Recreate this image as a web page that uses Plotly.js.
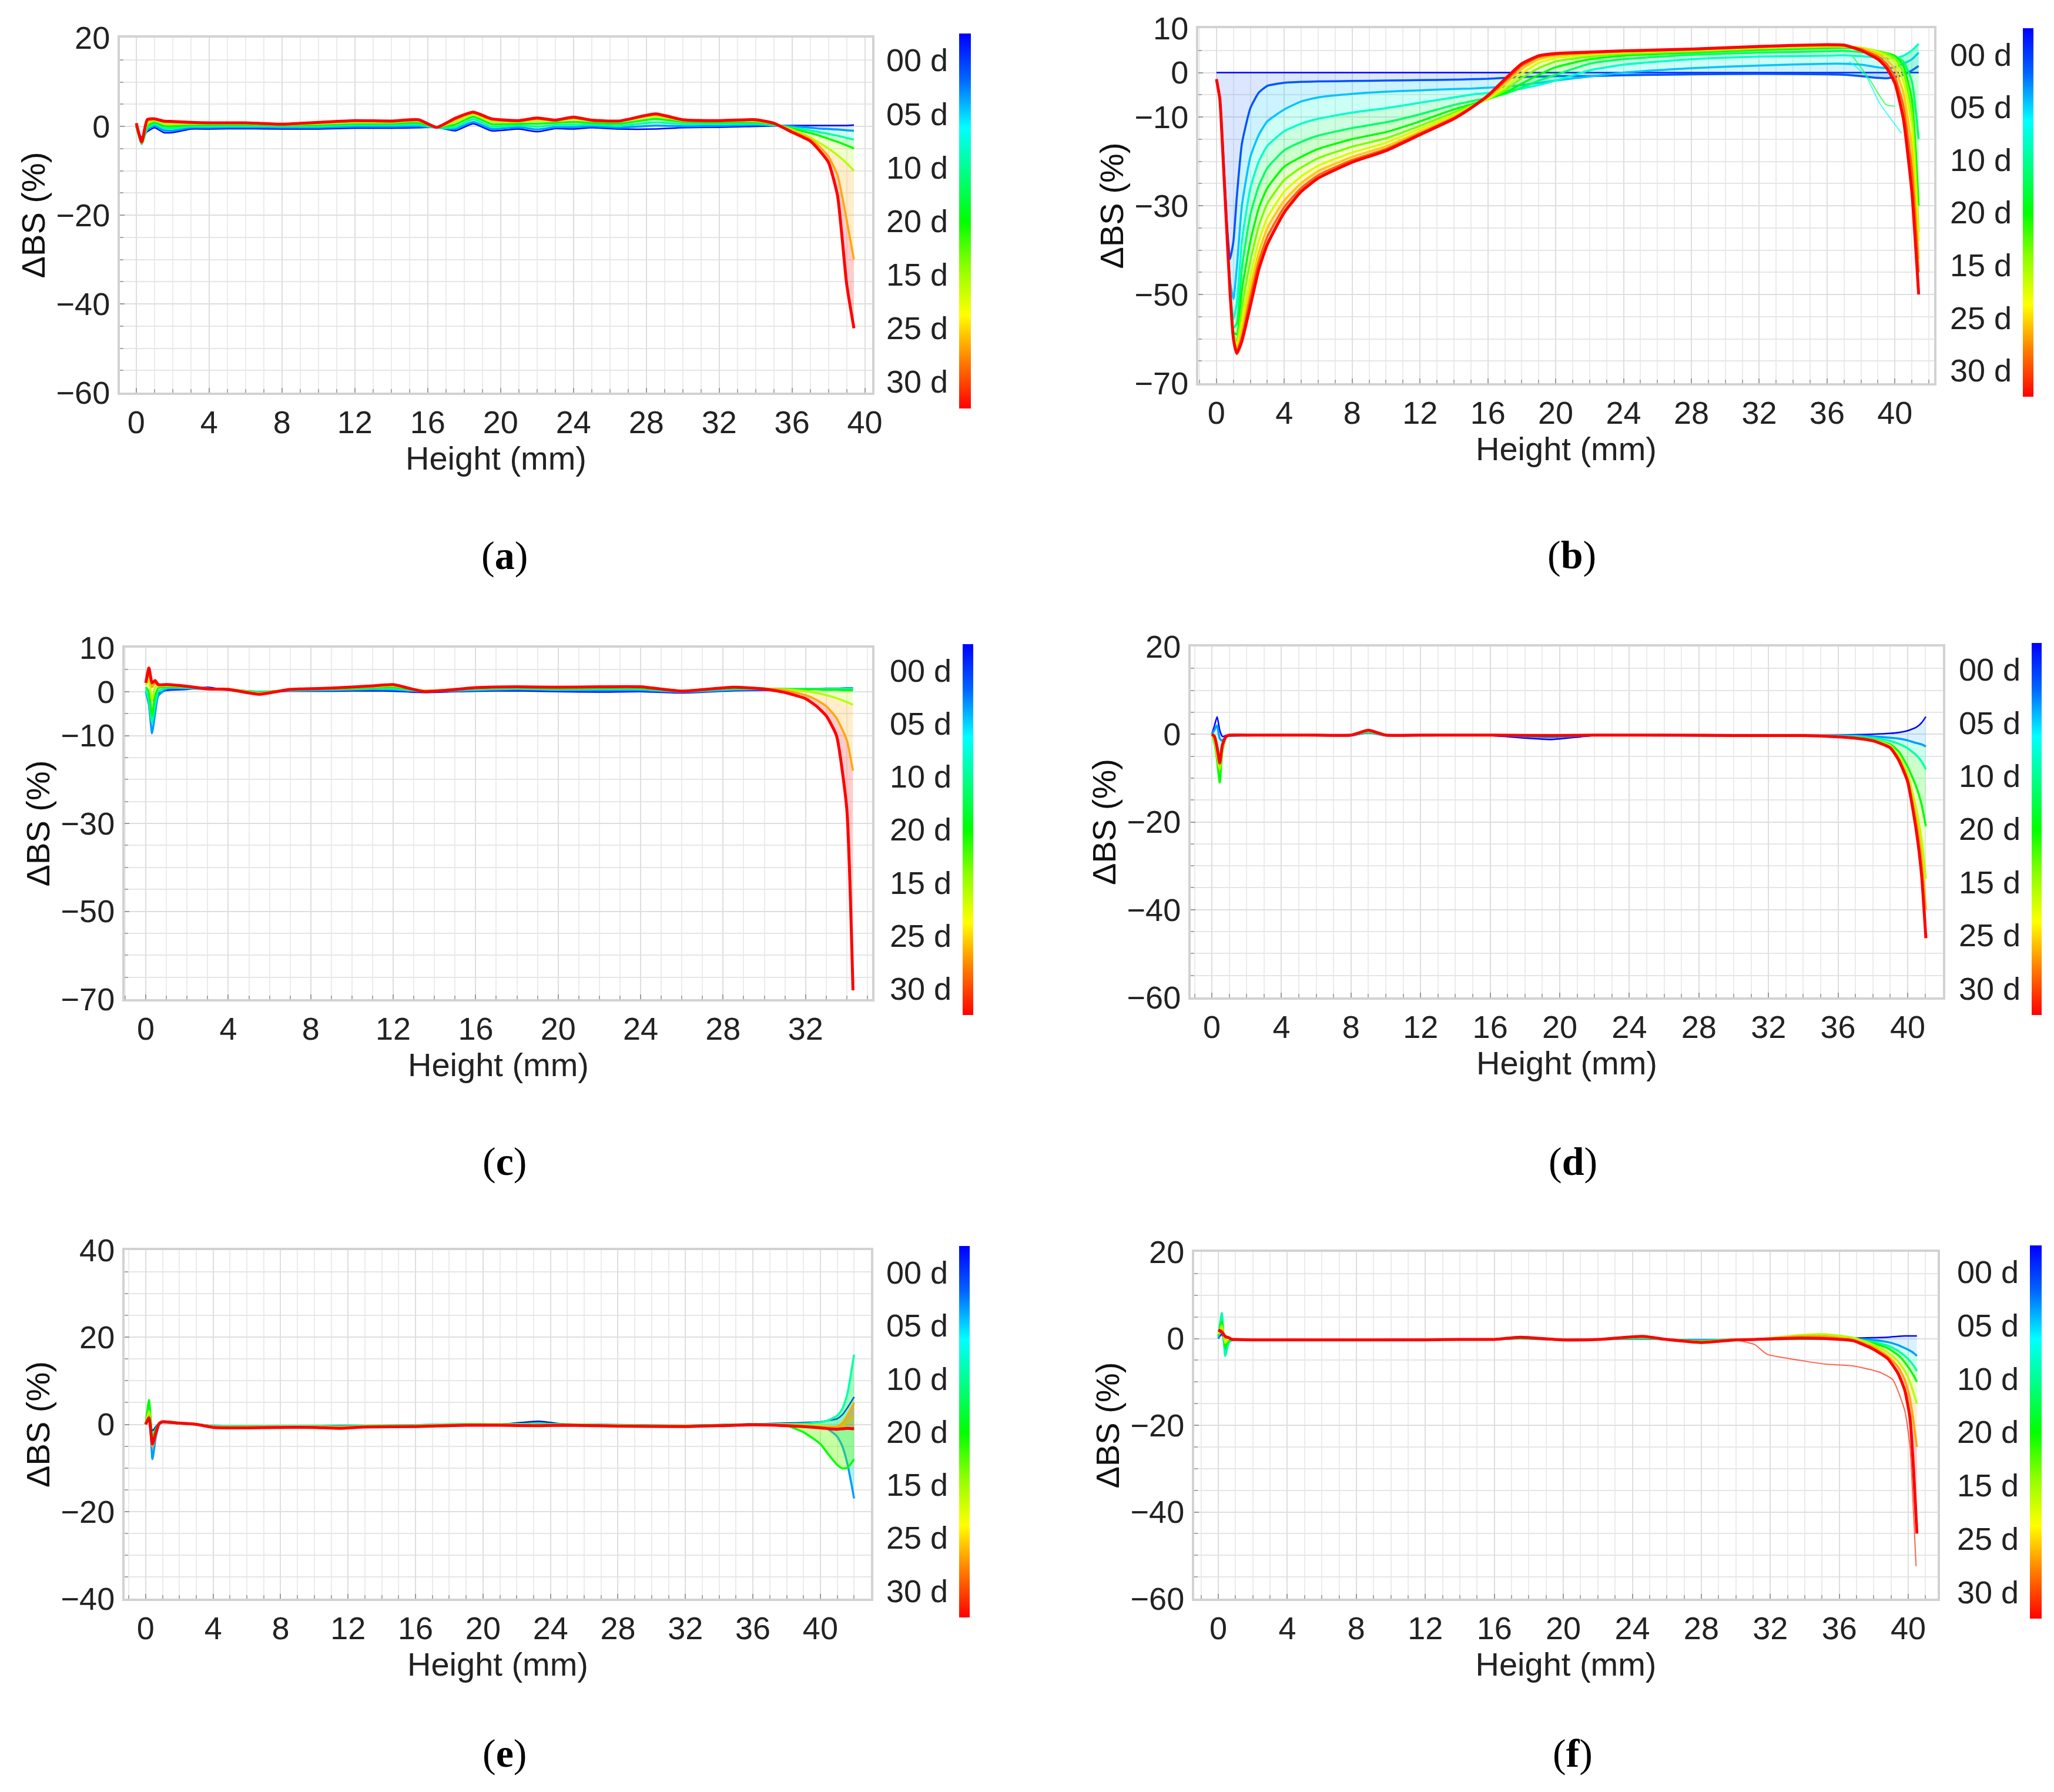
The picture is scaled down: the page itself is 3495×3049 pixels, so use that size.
<!DOCTYPE html>
<html><head><meta charset="utf-8">
<script src="https://cdn.plot.ly/plotly-3.0.1.min.js"></script>
<style>html,body{margin:0;padding:0;background:#fff}#chart{width:3495px;height:3049px}</style>
</head><body><div id="chart"></div>
<script>
// ---------------- DATA ----------------
const CBAR_LABELS = ["00 d","05 d","10 d","20 d","15 d","25 d","30 d"];
const DAYS_7 = [0,5,10,15,20,25,30];
const DAYS_B = [0,3,6,9,12,15,18,21,24,27,30];
const AXIS_TITLE_X = "Height (mm)";
const AXIS_TITLE_Y = "ΔBS (%)";
const PANEL_LETTERS = ["a","b","c","d","e","f"];
const Y_TICKS_A = [-60,-40,-20,0,20];
const Y_TICKS_B = [-70,-50,-30,-10,0,10];
const Y_TICKS_C = [-70,-50,-30,-10,0,10];
const Y_TICKS_D = [-60,-40,-20,0,20];
const Y_TICKS_E = [-40,-20,0,20,40];
const Y_TICKS_F = [-60,-40,-20,0,20];

// (a)
const X_A = [0,0.3,0.6,1,1.5,2,3,4,6,8,10,12,14,15.5,16.5,17.5,18.5,19.5,21,22,23,24,25,26.5,28.5,30,32,34,35,36,37,37.5,38,38.5,39,39.4];
const A_D00 = [-0.2,-2.5,-1.2,-0.3,-1.4,-1.4,-0.6,-0.6,-0.5,-0.6,-0.6,-0.4,-0.4,-0.3,-0.2,-1.0,0.6,-1.0,-0.6,-1.2,-0.5,-0.6,-0.3,-0.6,-0.6,-0.3,-0.2,0.0,0.1,0.2,0.2,0.2,0.2,0.2,0.2,0.3];
const A_D05 = [-0.1,-3.5,-0.8,0.1,-0.9,-1.0,-0.3,-0.3,-0.2,-0.3,-0.3,-0.1,-0.1,0.0,-0.3,-0.6,1.0,-0.6,-0.2,-0.7,-0.2,-0.2,0.0,-0.3,0.2,0.0,0.1,0.3,0.2,0.0,-0.3,-0.5,-0.6,-0.7,-0.9,-1.0];
const A_D10 = [0.0,-4.0,-0.4,0.5,-0.4,-0.5,0.0,0.0,0.1,0.0,0.0,0.3,0.3,0.4,-0.3,-0.2,1.6,-0.1,0.2,-0.1,0.3,0.3,0.4,0.1,0.9,0.5,0.5,0.6,0.3,-0.3,-0.9,-1.3,-1.7,-2.1,-2.6,-3.0];
const A_D15 = [0.2,-3.8,0.0,0.9,0.1,0.0,0.3,0.3,0.4,0.2,0.3,0.6,0.6,0.8,-0.2,0.4,2.2,0.5,0.6,0.6,0.8,1.0,0.8,0.6,1.7,1.0,0.9,0.9,0.5,-0.5,-1.5,-2.1,-2.8,-3.5,-4.3,-5.0];
const A_D20 = [0.4,-3.5,0.6,1.3,0.6,0.5,0.6,0.6,0.6,0.4,0.6,0.9,0.9,1.2,-0.2,1.0,2.7,1.1,1.0,1.3,1.2,1.6,1.2,1.1,2.3,1.3,1.2,1.2,0.6,-0.7,-2.5,-3.7,-5.0,-6.5,-8.3,-10.0];
const A_D25 = [0.6,-3.8,1.1,1.6,1.0,0.9,0.8,0.8,0.8,0.5,0.8,1.2,1.1,1.4,-0.2,1.5,3.0,1.5,1.2,1.7,1.3,1.9,1.3,1.2,2.6,1.4,1.3,1.4,0.7,-1.0,-2.8,-4.5,-6.8,-11.0,-21.0,-30.0];
const A_D30 = [0.7,-3.5,1.5,1.7,1.2,1.1,0.9,0.8,0.8,0.5,0.9,1.3,1.2,1.5,-0.2,1.8,3.2,1.7,1.3,1.9,1.4,2.1,1.4,1.2,2.8,1.5,1.3,1.5,0.7,-1.3,-3.3,-5.4,-8.1,-15.6,-35.5,-45.5];

// (b)
const X_B = [0,0.2,0.4,0.6,0.8,1.0,1.2,1.5,2,2.5,3,4,5,6,8,10,12,14,15,16,17,18,19,20,22,24,28,32,36,37,38,39,39.5,40,40.5,41,41.4];
const B_D00 = [0,0,0,0,0,0,0,0,0,0,0,0,0,0,0,0,0,0,0,0,0,0,0,0,0,0,0,0,0,0,0,0,0,0,0,0,0];
const B_D03 = [-1.5,-6,-18,-33,-42,-38,-28,-16,-8,-4.5,-3,-2.3,-2.1,-2.0,-1.9,-1.8,-1.7,-1.6,-1.5,-1.4,-1.2,-1.0,-0.9,-0.8,-0.8,-0.6,-0.4,-0.3,-0.4,-0.5,-0.8,-1.2,-1.3,-1.0,-0.5,0.5,1.5];
const B_D06 = [-1.5,-6,-20,-35,-47,-51,-44,-30,-19,-14,-11,-8.3,-6.5,-5.6,-4.8,-4.3,-4.0,-3.7,-3.6,-3.4,-3.2,-2.8,-2.3,-1.8,-0.9,0.0,1.0,1.6,2.0,2.0,1.8,1.2,1.0,1.2,2.0,3.0,4.5];
const B_D09 = [-1.5,-6,-20,-35,-49,-55.5,-52,-38,-26,-20,-16.5,-13.2,-11.5,-10.4,-9.0,-8.0,-6.8,-5.6,-5.0,-4.6,-4.2,-3.6,-2.8,-1.8,0.5,1.8,3.0,3.6,3.8,3.9,3.7,3.4,3.2,3.3,3.8,5.0,6.5];
const B_D12 = [-1.5,-6,-20,-35,-49.5,-57.5,-56.5,-44,-32,-25.5,-21.5,-17.5,-15.6,-14.2,-12.5,-11.2,-9.4,-7.3,-6.5,-5.7,-4.8,-3.4,-1.8,-0.5,2.0,3.0,4.0,4.5,4.8,4.9,4.6,4.2,4.0,3.6,2.5,-2,-15];
const B_D15 = [-1.5,-6,-20,-35,-49.5,-58.5,-59,-49,-38,-30.5,-26,-21.2,-19,-17.2,-15.0,-13.4,-11.0,-8.3,-7.2,-6.0,-4.6,-2.5,-0.5,1.2,3.0,3.8,4.5,5.1,5.5,5.6,5.4,4.8,4.4,3.8,1.5,-6,-30];
const B_D18 = [-1.5,-6,-20,-35,-49.5,-59,-60.5,-53,-42.5,-34.5,-29.5,-24.2,-21.4,-19.3,-16.7,-14.8,-12.0,-9.0,-7.5,-6.0,-4.0,-1.2,1.0,2.5,3.6,4.2,4.8,5.4,5.8,5.8,5.6,4.8,4.3,3.2,0,-9,-36];
const B_D21 = [-1.5,-6,-20,-35,-49.5,-59.5,-61.5,-56,-46,-38,-32.7,-26.8,-23.4,-21.0,-18.0,-15.8,-12.7,-9.5,-7.7,-5.9,-3.4,-0.2,2.2,3.3,4.0,4.5,5.0,5.6,6.0,5.9,5.6,4.6,3.8,2.3,-2.0,-12,-38];
const B_D24 = [-1.5,-6,-20,-35,-49.5,-59.8,-62.2,-58,-48.5,-40.5,-35,-28.8,-24.9,-22.2,-19.0,-16.6,-13.3,-9.9,-7.8,-5.6,-2.6,0.8,3.0,3.8,4.3,4.7,5.1,5.7,6.1,6.0,5.5,4.2,3.0,0.8,-4.5,-17,-42];
const B_D27 = [-1.5,-6,-20,-35,-49.5,-60,-62.8,-59.5,-50.5,-42.5,-37,-30.3,-26.0,-23.1,-19.7,-17.2,-13.7,-10.2,-7.9,-5.4,-2.0,1.5,3.5,4.1,4.5,4.8,5.2,5.8,6.2,6.1,5.3,3.6,2.0,-1.0,-7.5,-22,-45];
const B_D30 = [-1.5,-6,-20,-35,-49.5,-60,-63.3,-60.5,-52.5,-44.3,-38.7,-31.5,-26.8,-23.8,-20.2,-17.6,-14.0,-10.4,-8.0,-5.2,-1.5,2.0,3.8,4.3,4.6,4.9,5.3,5.9,6.3,6.2,5.0,3.0,1.1,-2.4,-10.5,-27,-50];
const B_OUT1_X = [37.5,38.5,39.47,40.0];
const B_OUT1_Y = [3.7,-1.5,-7.2,-7.6];
const B_OUT1_DAY = 14;
const B_OUT2_X = [37.3,38.27,39.07,40.39];
const B_OUT2_Y = [2.5,-0.65,-6.7,-13.7];
const B_OUT2_DAY = 8;

// (c)
const X_C = [0,0.15,0.3,0.45,0.6,1,2,3,4,5.5,7,9,11,12,13.5,16,18,20,22,24,26,28.5,30,31,32,32.5,33,33.5,34,34.3];
const C_D00 = [0,-1,-2,-1.5,-0.5,0.3,0.5,1.0,0.3,0.0,0.1,0.1,0.2,0.1,-0.2,0.1,0.2,0.0,-0.1,0.0,-0.3,0.2,0.3,0.4,0.5,0.6,0.6,0.7,0.8,0.8];
const C_D05 = [0,-3,-9.5,-5,-1,0.6,0.7,0.6,0.4,0.0,0.2,0.3,0.5,0.4,0.0,0.3,0.5,0.3,0.3,0.3,-0.1,0.4,0.5,0.5,0.6,0.6,0.7,0.7,0.8,0.8];
const C_D10 = [0.5,-2,-7,-3,0,0.9,0.9,0.7,0.5,-0.1,0.3,0.5,0.7,0.7,0.1,0.5,0.7,0.5,0.6,0.6,0.0,0.6,0.6,0.6,0.6,0.6,0.6,0.6,0.6,0.6];
const C_D15 = [1,0,-5.5,-1,0.8,1.1,1.0,0.7,0.6,-0.2,0.4,0.6,0.9,1.0,0.2,0.7,0.9,0.7,0.8,0.8,0.1,0.8,0.7,0.6,0.5,0.5,0.4,0.4,0.3,0.3];
const C_D20 = [1.5,2.5,-2,1,1.2,1.3,1.1,0.7,0.6,-0.3,0.5,0.7,1.1,1.3,0.2,0.8,1.0,0.9,1.0,1.0,0.2,0.9,0.7,0.5,0.1,-0.3,-0.8,-1.5,-2.4,-3.0];
const C_D25 = [2,4,1,2,1.4,1.5,1.2,0.7,0.6,-0.4,0.5,0.8,1.2,1.5,0.2,0.9,1.1,1.0,1.1,1.1,0.2,1.0,0.7,0.3,-0.8,-1.8,-3.3,-6.0,-11,-18];
const C_D30 = [2,5.4,2,2.5,1.6,1.6,1.2,0.6,0.5,-0.6,0.5,0.8,1.3,1.6,0.0,0.9,1.1,1.0,1.1,1.1,0.1,1.0,0.6,-0.2,-1.6,-3.2,-5.5,-10,-26.7,-68];

// (d)
const X_D = [0,0.15,0.3,0.45,0.6,0.8,1,2,4,6,8,9,10,12,16,19.5,22,26,30,34,36,37,38,39,39.5,40,40.5,40.8,41.05];
const D_D00 = [0,2,4,1,-0.5,-0.3,-0.3,-0.3,-0.3,-0.3,-0.3,0.3,-0.3,-0.3,-0.3,-1.2,-0.3,-0.3,-0.4,-0.3,-0.2,-0.1,0.0,0.2,0.4,0.8,1.6,2.6,4.0];
const D_D05 = [0,1,2,-1,-1.5,-0.5,-0.4,-0.3,-0.2,-0.3,-0.3,0.4,-0.3,-0.3,-0.2,-0.7,-0.2,-0.3,-0.3,-0.3,-0.3,-0.3,-0.5,-0.8,-1.0,-1.4,-2.0,-2.3,-2.8];
const D_D10 = [0,-1,-4,-8,-3,-0.6,-0.3,-0.2,-0.2,-0.2,-0.2,0.5,-0.2,-0.2,-0.2,-0.3,-0.2,-0.2,-0.3,-0.3,-0.4,-0.5,-0.8,-1.5,-2.2,-3.2,-4.8,-6.2,-8.0];
const D_D15 = [0,-2,-6,-11,-4,-0.8,-0.3,-0.2,-0.2,-0.2,-0.2,0.6,-0.2,-0.2,-0.2,-0.3,-0.2,-0.2,-0.3,-0.3,-0.5,-0.7,-1.2,-2.3,-4.0,-7.4,-12,-16,-21];
const D_D20 = [0,-1.5,-5,-8,-3.5,-0.8,-0.2,-0.2,-0.2,-0.2,-0.2,0.7,-0.2,-0.2,-0.2,-0.3,-0.2,-0.2,-0.3,-0.3,-0.5,-0.8,-1.3,-2.6,-5.0,-9.0,-17,-24,-33];
const D_D25 = [0,-1,-4,-7,-3,-0.7,-0.2,-0.2,-0.2,-0.2,-0.2,0.8,-0.2,-0.2,-0.2,-0.3,-0.2,-0.2,-0.3,-0.3,-0.6,-0.8,-1.4,-2.9,-5.5,-10.0,-19.5,-28,-40];
const D_D30 = [0,-0.5,-3,-6.5,-2.5,-0.6,-0.2,-0.2,-0.2,-0.2,-0.2,0.9,-0.2,-0.2,-0.2,-0.3,-0.2,-0.2,-0.3,-0.3,-0.6,-0.9,-1.5,-3.1,-6.0,-10.8,-22,-32,-46.5];

// (e)
const X_E = [0,0.2,0.4,0.6,0.8,1,2,3,4,6,8,10,11.5,13,16,19,21,23.3,25,28,32,36,38,39,40,40.5,41,41.3,41.6,42];
const E_D00 = [0,1.5,-1.5,-0.5,0.3,0.5,0.3,0.1,-0.3,-0.4,-0.4,-0.4,-0.3,-0.3,-0.1,0.0,0.0,0.7,0.0,-0.1,-0.3,0.1,0.3,0.4,0.6,0.9,1.3,2.2,3.8,6.3];
const E_D05 = [0,3,-8,-3,0,0.4,0.2,0,-0.4,-0.5,-0.4,-0.4,-0.4,-0.3,-0.2,0.1,0.0,0.2,0.0,-0.1,-0.3,0.1,0.1,0.0,-0.5,-1.2,-2.8,-5,-9,-17];
const E_D10 = [0,4.5,-5,-2,0.2,0.5,0.2,0,-0.4,-0.5,-0.5,-0.4,-0.5,-0.3,-0.2,0.1,0.0,0.1,0.0,-0.2,-0.3,0.0,0.1,0.2,0.5,1.0,2.0,3.5,7,16];
const E_D15 = [0,5.6,-3,-1,0.3,0.6,0.2,0,-0.5,-0.5,-0.5,-0.5,-0.5,-0.4,-0.3,0.0,0.0,0.0,0.0,-0.2,-0.3,0.0,-0.3,-1.8,-4.5,-7.0,-9.3,-10.1,-10,-8];
const E_D20 = [0,3,-4,-2,0.3,0.6,0.3,0.1,-0.5,-0.6,-0.5,-0.5,-0.6,-0.4,-0.3,0.0,0.0,-0.1,-0.1,-0.2,-0.4,0.0,0.0,-0.1,-0.3,-0.5,-0.6,-0.3,0.5,2];
const E_D25 = [0,2,-5.2,-2.5,0.3,0.7,0.3,0.1,-0.6,-0.7,-0.6,-0.6,-0.7,-0.5,-0.4,-0.1,-0.1,-0.2,-0.1,-0.3,-0.4,-0.1,-0.2,-0.3,-0.5,-0.6,-0.5,0.3,2,5];
const E_D30 = [0,1.5,-4.5,-2,0.2,0.6,0.3,0.0,-0.7,-0.8,-0.7,-0.7,-0.9,-0.6,-0.5,-0.2,-0.2,-0.3,-0.2,-0.4,-0.5,-0.1,-0.3,-0.5,-0.8,-1.0,-1.1,-1.0,-0.9,-1.0];

// (f)
const X_F = [0,0.2,0.4,0.6,0.8,1,2,4,6,8,10,12,14,16,17.5,20,22,24.6,26,28,30,31.1,31.8,33.7,35.2,36.8,37.9,38.8,39.4,39.8,40.1,40.3,40.5];
const F_D00 = [0,1,-1,-0.3,-0.3,-0.3,-0.3,-0.2,-0.3,-0.3,-0.2,-0.2,-0.2,-0.1,0.0,-0.2,-0.1,-0.1,-0.2,-0.3,-0.2,-0.1,0.0,0.0,0.0,0.1,0.2,0.3,0.5,0.6,0.6,0.6,0.6];
const F_D05 = [0,3,-2.5,-0.8,-0.4,-0.3,-0.3,-0.3,-0.3,-0.3,-0.3,-0.3,-0.2,-0.2,0.0,-0.3,-0.2,0.0,-0.2,-0.4,-0.2,-0.2,-0.1,-0.1,-0.1,-0.1,-0.3,-0.8,-1.5,-2.2,-2.8,-3.3,-4.0];
const F_D10 = [0.5,5.9,-4,-1,-0.3,-0.2,-0.3,-0.3,-0.3,-0.3,-0.3,-0.3,-0.2,-0.2,0.1,-0.3,-0.2,0.1,-0.2,-0.5,-0.2,-0.2,-0.2,-0.1,-0.1,-0.3,-0.7,-1.6,-2.8,-4.0,-5.2,-6.2,-7.5];
const F_D15 = [0.5,4,-2,-0.5,-0.2,-0.2,-0.3,-0.3,-0.3,-0.3,-0.3,-0.3,-0.2,-0.2,0.1,-0.3,-0.2,0.2,-0.2,-0.6,-0.2,-0.2,-0.2,0.2,0.3,-0.4,-1.0,-2.2,-3.8,-5.5,-7.2,-8.5,-10];
const F_D20 = [1,3,-1,0,-0.2,-0.2,-0.3,-0.3,-0.3,-0.3,-0.3,-0.3,-0.2,-0.2,0.2,-0.3,-0.2,0.3,-0.2,-0.7,-0.2,-0.2,0.0,0.8,1.0,0.2,-1.3,-3.2,-5.2,-7.5,-10,-12.5,-15];
const F_D25 = [1.5,2,0,0.3,-0.1,-0.2,-0.3,-0.3,-0.3,-0.3,-0.3,-0.3,-0.2,-0.2,0.3,-0.3,-0.2,0.4,-0.2,-0.8,-0.3,-0.2,0.0,0.5,0.5,-0.3,-1.8,-4.0,-6.5,-9.5,-13.9,-19,-25];
const F_D30 = [2,1.5,0.5,0.2,-0.2,-0.2,-0.3,-0.3,-0.3,-0.3,-0.3,-0.3,-0.2,-0.2,0.3,-0.3,-0.2,0.5,-0.2,-0.9,-0.3,-0.2,-0.1,0.1,0.0,-0.5,-2.3,-4.6,-8,-12,-18.4,-30,-45];
const F_OUT_X = [30,31.1,31.8,33.7,35.2,36.8,38.3,39.1,39.8,40.1,40.3,40.45];
const F_OUT_Y = [-0.3,-1.4,-3.6,-5.0,-5.9,-6.3,-7.7,-9.5,-16.7,-25,-40,-52.5];
const F_OUT_DAY = 29;

// ---------------- STYLE / LAYOUT ----------------
const W = 3495, H = 3049;
const MAX_DAY = 30;
const STOPS = [[0,[0,0,255]],[0.12,[0,100,255]],[0.25,[0,255,255]],[0.5,[0,255,0]],[0.62,[140,255,0]],[0.75,[255,255,0]],[0.87,[255,128,0]],[1,[255,0,0]]];
function colorAt(f){
  for (let i=1;i<STOPS.length;i++){
    if (f<=STOPS[i][0]){
      const f0=STOPS[i-1][0], c0=STOPS[i-1][1], f1=STOPS[i][0], c1=STOPS[i][1];
      const t=(f-f0)/(f1-f0);
      return c0.map((v,j)=>Math.round(v+(c1[j]-v)*t));
    }
  }
  return STOPS[STOPS.length-1][1];
}
const CS = STOPS.map(s=>[s[0],'rgb('+s[1].join(',')+')']);
const FONT = '"Liberation Sans", Arial, Helvetica, sans-serif';
const TICKFONT = {family:FONT, size:54, color:'#222'};
const TITLEFONT = {family:FONT, size:56, color:'#222'};

const panels = [
  {x:X_A, days:DAYS_7, curves:[A_D00,A_D05,A_D10,A_D15,A_D20,A_D25,A_D30], extra:[], yticks:Y_TICKS_A,
   box:[204,64,1484,668], xr:[-0.9,40.4], yr:[-60,20], cb:[1632,57,1652,695], lab:[858,945]},
  {x:X_B, days:DAYS_B, curves:[B_D00,B_D03,B_D06,B_D09,B_D12,B_D15,B_D18,B_D21,B_D24,B_D27,B_D30],
   extra:[{x:B_OUT1_X,y:B_OUT1_Y,day:B_OUT1_DAY},{x:B_OUT2_X,y:B_OUT2_Y,day:B_OUT2_DAY}], yticks:Y_TICKS_B,
   box:[2039,48,3291,652], xr:[-1.07,42.31], yr:[-70,10], cb:[3442,48,3460,675], lab:[2674,944]},
  {x:X_C, days:DAYS_7, curves:[C_D00,C_D05,C_D10,C_D15,C_D20,C_D25,C_D30], extra:[], yticks:Y_TICKS_C,
   box:[212,1102,1484,1700], xr:[-1.03,35.23], yr:[-70,10], cb:[1638,1096,1656,1727], lab:[859,1976]},
  {x:X_D, days:DAYS_7, curves:[D_D00,D_D05,D_D10,D_D15,D_D20,D_D25,D_D30], extra:[], yticks:Y_TICKS_D,
   box:[2026,1100,3306,1697], xr:[-1.22,42.03], yr:[-60,20], cb:[3457,1094,3474,1727], lab:[2676,1976]},
  {x:X_E, days:DAYS_7, curves:[E_D00,E_D05,E_D10,E_D15,E_D20,E_D25,E_D30], extra:[], yticks:Y_TICKS_E,
   box:[212,2127,1482,2720], xr:[-1.25,43.0], yr:[-40,40], cb:[1632,2120,1650,2752], lab:[859,2983]},
  {x:X_F, days:DAYS_7, curves:[F_D00,F_D05,F_D10,F_D15,F_D20,F_D25,F_D30],
   extra:[{x:F_OUT_X,y:F_OUT_Y,day:F_OUT_DAY}], yticks:Y_TICKS_F,
   box:[2032,2130,3297,2720], xr:[-1.4,41.7], yr:[-60,20], cb:[3454,2119,3474,2754], lab:[2676,2983]}
];

const traces = [];
const heatmaps = [];
const layout = {
  width:W, height:H, margin:{l:0,r:0,t:0,b:0}, paper_bgcolor:'#fff', plot_bgcolor:'#fff',
  showlegend:false, annotations:[]
};

panels.forEach((p,i)=>{
  const n = 2*i+1, m = 2*i+2;
  const last = p.curves.length-1;
  p.curves.forEach((yv,k)=>{
    const c = colorAt(p.days[k]/MAX_DAY);
    const rgb = 'rgb('+c.join(',')+')';
    traces.push({
      type:'scatter', mode:'lines', x:p.x, y:yv, xaxis:'x'+n, yaxis:'y'+n,
      line:{color:rgb, width: k===last ? 5 : (k===0 ? 2.5 : 3.5), shape:'spline', smoothing:0.5},
      fill: k===0 ? 'none' : 'tonexty',
      fillcolor:'rgba('+c.join(',')+','+(k===1 ? 0.14 : 0.2)+')',
      hoverinfo:'skip', showlegend:false
    });
  });
  p.extra.forEach(e=>{
    const c = colorAt(e.day/MAX_DAY);
    traces.push({type:'scatter', mode:'lines', x:e.x, y:e.y, xaxis:'x'+n, yaxis:'y'+n,
      line:{color:'rgba('+c.join(',')+',0.7)', width:2, shape:'spline', smoothing:0.5},
      hoverinfo:'skip', showlegend:false});
  });
  heatmaps.push({type:'heatmap', x:[0,1], y:[0,CBAR_LABELS.length], z:[[0,0],[MAX_DAY,MAX_DAY]],
    zmin:0, zmax:MAX_DAY, colorscale:CS, showscale:false, zsmooth:'best',
    xaxis:'x'+m, yaxis:'y'+m, hoverinfo:'skip'});

  layout['xaxis'+n] = {
    domain:[p.box[0]/W, p.box[2]/W], range:p.xr, anchor:'y'+n,
    tickmode:'linear', tick0:0, dtick:4, ticks:'inside', ticklen:8, tickwidth:2, tickcolor:'#9a9a9a',
    showline:true, linecolor:'#d2d2d2', linewidth:4, mirror:true,
    showgrid:true, gridcolor:'#dedede', gridwidth:2, zeroline:false,
    tickfont:TICKFONT, ticklabelstandoff:0,
    minor:{tickmode:'linear', tick0:0, dtick:1, showgrid:true, gridcolor:'#ececec', gridwidth:2,
           ticks:'inside', ticklen:6, tickwidth:2, tickcolor:'#a8a8a8'},
    title:{text:AXIS_TITLE_X, font:TITLEFONT, standoff:14},
    automargin:false, fixedrange:true
  };
  layout['yaxis'+n] = {
    domain:[1-p.box[3]/H, 1-p.box[1]/H], range:p.yr, anchor:'x'+n,
    tickmode:'array', tickvals:p.yticks, ticks:'inside', ticklen:8, tickwidth:2, tickcolor:'#9a9a9a',
    showline:true, linecolor:'#d2d2d2', linewidth:4, mirror:true,
    showgrid:true, gridcolor:'#dedede', gridwidth:2, zeroline:false,
    tickfont:TICKFONT, ticklabelstandoff:2,
    minor:{tickmode:'linear', tick0:0, dtick:5, showgrid:true, gridcolor:'#e6e6e6', gridwidth:2,
           ticks:'inside', ticklen:6, tickwidth:2, tickcolor:'#a8a8a8'},
    title:{text:AXIS_TITLE_Y, font:{family:FONT, size:56, color:'#111'}, standoff:2},
    automargin:false, fixedrange:true
  };
  layout['xaxis'+m] = {domain:[p.cb[0]/W, p.cb[2]/W], range:[0,1], anchor:'y'+m, visible:false, fixedrange:true};
  layout['yaxis'+m] = {
    domain:[1-p.cb[3]/H, 1-p.cb[1]/H], range:[CBAR_LABELS.length,0], anchor:'x'+m, side:'left',
    tickmode:'array', tickvals:CBAR_LABELS.map((_,k)=>k+0.5), ticktext:CBAR_LABELS,
    ticks:'', showgrid:false, zeroline:false, showline:false,
    tickfont:TICKFONT, ticklabelstandoff:18, automargin:false, fixedrange:true
  };
  layout.annotations.push({
    xref:'paper', yref:'paper', x:p.lab[0]/W, y:1-p.lab[1]/H, xanchor:'center', yanchor:'middle',
    text:'(<b>'+PANEL_LETTERS[i]+'</b>)', showarrow:false,
    font:{family:'"Liberation Serif", "DejaVu Serif", serif', size:68, color:'#000'}
  });
});

Plotly.newPlot('chart', traces.concat(heatmaps), layout, {staticPlot:true, displayModeBar:false});
</script>
</body></html>
